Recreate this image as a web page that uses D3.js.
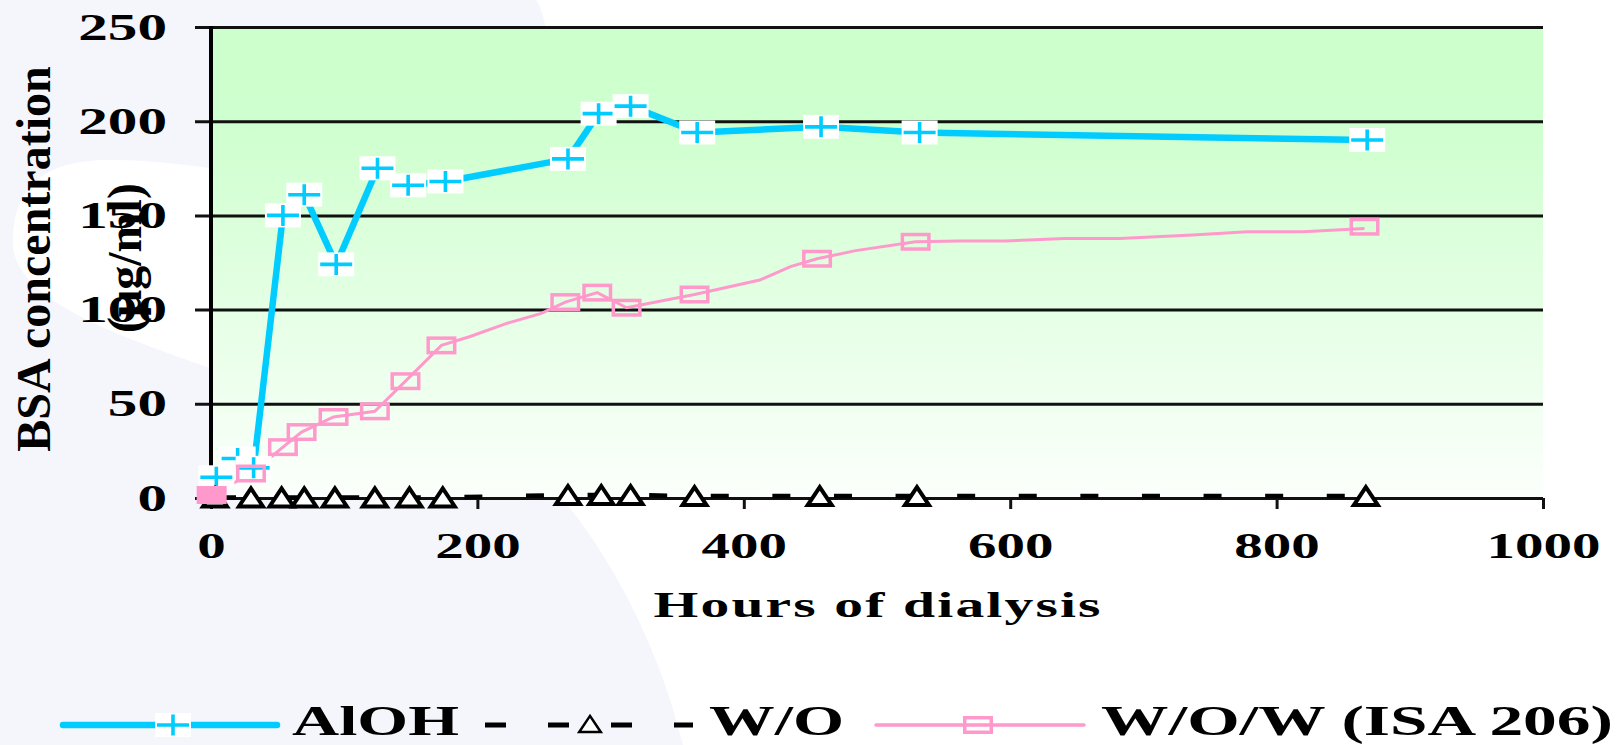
<!DOCTYPE html>
<html>
<head>
<meta charset="utf-8">
<script src="https://cdn.jsdelivr.net/npm/d3@7"></script>
<style>
html, body { margin: 0; padding: 0; background: #ffffff; }
svg { display: block; }
</style>
</head>
<body>
<div id="chart"></div>
<script>
// page size and plot box
var W = 1618, H = 745;
var plot = {left: 211, top: 27, right: 1543, bottom: 498};
var serif = "'Liberation Serif', 'Times New Roman', serif";

// ---- data ----
var alohHours = [4, 20, 32, 54, 70, 94, 125, 148, 176, 268, 291, 315, 365, 458, 532, 868];
var alohConc  = [11, 21, 16, 150, 161, 124, 175, 166, 168, 180, 204, 208, 194, 197, 194, 190];

var woHours = [3, 30, 53, 70, 93, 123, 149, 174, 268, 293, 315, 363, 457, 530, 867];
var woConc  = [0.3, 0.3, 0.3, 0.3, 0.3, 0.3, 0.3, 0.3, 1.6, 1.6, 1.6, 1, 1, 1, 1];

var wowHours = [0.5, 30, 54, 68, 92, 123, 146, 173, 266, 290, 312, 363, 455, 529, 866];
var wowConc  = [1.6, 13, 27, 35, 43, 46, 62, 81, 104, 109, 101, 108, 127, 136, 144];

// the pink line bends between its markers too
var wowLineHours = [0.5, 30, 54, 68, 92, 123, 146, 173, 194, 222, 248, 266, 290, 312, 363, 412, 435, 455, 484, 529, 562, 596, 641, 682, 737, 778, 820, 866];
var wowLineConc  = [1.6, 13, 27, 35, 43, 46, 62, 81, 85.6, 92.7, 98, 104, 109, 101, 108, 115.7, 122.8, 127, 131.3, 136, 136.4, 136.4, 137.8, 137.8, 139.6, 141.3, 141.3, 143];

var xTicks = [0, 200, 400, 600, 800, 1000];
var yTicks = [0, 50, 100, 150, 200, 250];
var legendNames = ["AlOH", "W/O", "W/O/W (ISA 206)"];

var blue = "#00ccff", pink = "#ff99cc";

var svg = d3.select("#chart").append("svg")
    .attr("width", W)
    .attr("height", H);

var defs = svg.append("defs");
var grad = defs.append("linearGradient")
    .attr("id", "plotbg")
    .attr("x1", 0).attr("y1", 0).attr("x2", 0).attr("y2", 1);
grad.append("stop").attr("offset", "0%").attr("stop-color", "#ccffcc");
grad.append("stop").attr("offset", "22%").attr("stop-color", "#cfffcf");
grad.append("stop").attr("offset", "100%").attr("stop-color", "#fcfffc");

// background shapes
svg.append("rect").attr("width", W).attr("height", H).attr("fill", "#ffffff");
svg.append("path")
    .attr("d", "M0,0 L536,0 C556,25 566,200 566,503 C600,545 655,630 683,745 L0,745 Z")
    .attr("fill", "#f5f6fc");
svg.append("path")
    .attr("d", "M13,243 C13,185 45,160 110,160 C250,160 450,220 600,300 L600,480 C450,440 300,400 207,367 C120,336 13,300 13,243 Z")
    .attr("fill", "#ffffff");

var x = d3.scaleLinear().domain([0, 1000]).range([plot.left, plot.right]);
var y = d3.scaleLinear().domain([0, 250]).range([plot.bottom, plot.top]);

svg.append("rect")
    .attr("x", plot.left)
    .attr("y", plot.top)
    .attr("width", plot.right - plot.left)
    .attr("height", plot.bottom - plot.top)
    .attr("fill", "url(#plotbg)");

// y axis with grid lines
var yAxis = svg.append("g")
    .attr("transform", "translate(" + plot.left + ",0)")
    .call(d3.axisLeft(y).tickValues(yTicks).tickFormat(d3.format("d")).tickSize(0));
yAxis.select(".domain").remove();
yAxis.selectAll("line")
    .attr("x1", -16)
    .attr("x2", plot.right - plot.left)
    .attr("stroke", "#111")
    .attr("stroke-width", 3);
yAxis.selectAll("text")
    .attr("x", null)
    .attr("dy", null)
    .attr("transform", "translate(-44,12) scale(1.6,1)")
    .attr("text-anchor", "end")
    .attr("font-family", serif)
    .attr("font-weight", "bold")
    .attr("font-size", 37)
    .attr("fill", "#000");

// x axis
var xAxis = svg.append("g")
    .attr("transform", "translate(0," + plot.bottom + ")")
    .call(d3.axisBottom(x).tickValues(xTicks).tickFormat(d3.format("d")).tickSize(11));
xAxis.select(".domain").remove();
xAxis.selectAll("line").attr("stroke", "#111").attr("stroke-width", 3);
xAxis.selectAll("text")
    .attr("y", null)
    .attr("dy", null)
    .attr("transform", "translate(0,60) scale(1.63,1)")
    .attr("text-anchor", "middle")
    .attr("font-family", serif)
    .attr("font-weight", "bold")
    .attr("font-size", 35)
    .attr("fill", "#000");

// vertical axis line
svg.append("line")
    .attr("x1", plot.left).attr("x2", plot.left)
    .attr("y1", y(250) - 1).attr("y2", y(0) + 2)
    .attr("stroke", "#000")
    .attr("stroke-width", 4);

// axis titles
svg.append("text")
    .attr("transform", "translate(877,617) scale(1.6,1)")
    .attr("text-anchor", "middle")
    .attr("textLength", 447 / 1.6)
    .attr("lengthAdjust", "spacing")
    .attr("font-family", serif)
    .attr("font-weight", "bold")
    .attr("font-size", 36)
    .text("Hours of dialysis");

svg.append("text")
    .attr("transform", "translate(34,259) rotate(-90)")
    .attr("y", 16)
    .attr("text-anchor", "middle")
    .attr("font-family", serif)
    .attr("font-weight", "bold")
    .attr("font-size", 48)
    .text("BSA concentration");
svg.append("text")
    .attr("transform", "translate(129,258) rotate(-90)")
    .attr("y", 12)
    .attr("text-anchor", "middle")
    .attr("font-family", serif)
    .attr("font-weight", "bold")
    .attr("font-size", 48)
    .text("(\u03bcg/ml)");

// lines
var line = d3.line().x(function(d) { return x(d[0]); }).y(function(d) { return y(d[1]); });
var aloh = d3.zip(alohHours, alohConc);
var wo = d3.zip(woHours, woConc);
var wow = d3.zip(wowHours, wowConc);
var wowLine = d3.zip(wowLineHours, wowLineConc);

svg.append("path")
    .attr("d", line(wowLine))
    .attr("fill", "none")
    .attr("stroke", pink)
    .attr("stroke-width", 3);

svg.append("path")
    .attr("d", line(aloh))
    .attr("fill", "none")
    .attr("stroke", blue)
    .attr("stroke-width", 6.5)
    .attr("stroke-linejoin", "round");

svg.append("path")
    .attr("d", line(wo))
    .attr("fill", "none")
    .attr("stroke", "#000")
    .attr("stroke-width", 4.5)
    .attr("stroke-dasharray", "18,43.6")
    .attr("stroke-dashoffset", -3);

// marker drawers
function plusMarker(g) {
  g.append("rect").attr("x", -18).attr("y", -12).attr("width", 36).attr("height", 24).attr("fill", "#fff");
  g.append("path").attr("d", "M-16,0H16M0,-10.5V10.5")
      .attr("stroke", blue).attr("stroke-width", 3.6).attr("fill", "none");
}
function triMarker(g, sw) {
  g.append("path").attr("d", "M0,-9L12,9L-12,9Z")
      .attr("fill", "#fff").attr("stroke", "#000").attr("stroke-width", sw)
      .attr("stroke-linejoin", "miter");
}
function squareMarker(g, filled) {
  g.append("rect").attr("x", -13.25).attr("y", -7.25).attr("width", 26.5).attr("height", 14.5)
      .attr("fill", filled ? pink : "none").attr("stroke", pink).attr("stroke-width", 3.5);
}

svg.append("g").selectAll("g")
    .data(aloh).enter().append("g")
    .attr("transform", function(d) { return "translate(" + x(d[0]) + "," + y(d[1]) + ")"; })
    .each(function() { plusMarker(d3.select(this)); });

svg.append("g").selectAll("g")
    .data(wo).enter().append("g")
    .attr("transform", function(d) { return "translate(" + x(d[0]) + "," + y(d[1]) + ")"; })
    .each(function() { triMarker(d3.select(this), 4); });

svg.append("g").selectAll("g")
    .data(wow).enter().append("g")
    .attr("transform", function(d) { return "translate(" + x(d[0]) + "," + y(d[1]) + ")"; })
    .each(function(d, i) { squareMarker(d3.select(this), i === 0); });

// legend
var ly = 725, lbase = 735;
var leg = svg.append("g");
leg.append("line").attr("x1", 63).attr("x2", 277).attr("y1", ly).attr("y2", ly)
    .attr("stroke", blue).attr("stroke-width", 6.5).attr("stroke-linecap", "round");
plusMarker(leg.append("g").attr("transform", "translate(173," + ly + ")"));

leg.append("line").attr("x1", 485).attr("x2", 693).attr("y1", ly).attr("y2", ly)
    .attr("stroke", "#000").attr("stroke-width", 5).attr("stroke-dasharray", "21,42");
triMarker(leg.append("g").attr("transform", "translate(590," + (ly - 1) + ") scale(0.9)"), 2.8);

leg.append("line").attr("x1", 876).attr("x2", 1084).attr("y1", ly).attr("y2", ly)
    .attr("stroke", pink).attr("stroke-width", 3.5).attr("stroke-linecap", "round");
squareMarker(leg.append("g").attr("transform", "translate(978," + ly + ")"), false);

var legText = [{x: 292, w: 167}, {x: 709, w: 135}, {x: 1101, w: 512}];
leg.selectAll("text.lt")
    .data(legendNames).enter().append("text")
    .attr("class", "lt")
    .attr("transform", function(d, i) { return "translate(" + legText[i].x + "," + lbase + ") scale(1.5,1)"; })
    .attr("textLength", function(d, i) { return legText[i].w / 1.5; })
    .attr("lengthAdjust", "spacingAndGlyphs")
    .attr("font-family", serif)
    .attr("font-weight", "bold")
    .attr("font-size", 43)
    .text(function(d) { return d; });
</script>
</body>
</html>
